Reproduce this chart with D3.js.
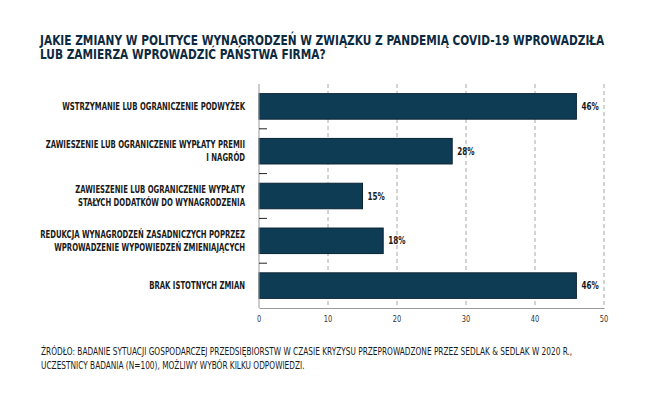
<!DOCTYPE html>
<html>
<head>
<meta charset="utf-8">
<script src="https://cdn.jsdelivr.net/npm/d3@7"></script>
<style>
  body { margin: 0; background: #fff; }
  svg { display: block; }
  text { font-family: "DejaVu Sans Condensed", "Liberation Sans Narrow", "Roboto", sans-serif; }
</style>
</head>
<body>
<svg id="chart" width="650" height="397"></svg>
<script>
// data
const categories = [
  ["WSTRZYMANIE LUB OGRANICZENIE PODWYŻEK"],
  ["ZAWIESZENIE LUB OGRANICZENIE WYPŁATY PREMII", "I NAGRÓD"],
  ["ZAWIESZENIE LUB OGRANICZENIE WYPŁATY", "STAŁYCH DODATKÓW DO WYNAGRODZENIA"],
  ["REDUKCJA WYNAGRODZEŃ ZASADNICZYCH POPRZEZ", "WPROWADZENIE WYPOWIEDZEŃ ZMIENIAJĄCYCH"],
  ["BRAK ISTOTNYCH ZMIAN"]
];
const values = [46, 28, 15, 18, 46];
const xTicks = [0, 10, 20, 30, 40, 50];
const titleLines = [
  "JAKIE ZMIANY W POLITYCE WYNAGRODZEŃ W ZWIĄZKU Z PANDEMIĄ COVID-19 WPROWADZIŁA",
  "LUB ZAMIERZA WPROWADZIĆ PAŃSTWA FIRMA?"
];
const sourceLines = [
  "ŹRÓDŁO: BADANIE SYTUACJI GOSPODARCZEJ PRZEDSIĘBIORSTW W CZASIE KRYZYSU PRZEPROWADZONE PRZEZ SEDLAK & SEDLAK W 2020 R.,",
  "UCZESTNICY BADANIA (N=100), MOŻLIWY WYBÓR KILKU ODPOWIEDZI."
];

const svg = d3.select("#chart");
const margin = { top: 84, left: 259, right: 46, bottom: 89 };
const width = 650 - margin.left - margin.right;
const height = 397 - margin.top - margin.bottom;

// no narrow font installed: squeeze text horizontally so it fits like the original
function measure(str, size, weight) {
  const t = svg.append("text").attr("font-size", size).attr("font-weight", weight).text(str);
  const w = t.node().getComputedTextLength();
  t.remove();
  return w;
}
const kTitle = 565 / measure(titleLines[0], 13.5, "bold");
const kCat = 183 / measure(categories[0][0], 10, "bold");
const kSrc = 532 / measure(sourceLines[0], 10, "normal");

function squeezed(parent, px, py, k) {
  return parent.append("g").attr("transform", `translate(${px},${py}) scale(${k},1)`);
}

const x = d3.scaleLinear().domain([0, 50]).range([0, width]);
const y = d3.scaleBand().domain(d3.range(values.length)).range([0, height]).paddingInner(0.43).paddingOuter(0.215);

// title
titleLines.forEach((line, i) => {
  squeezed(svg, 40, 44.5 + i * 14.5, kTitle).append("text")
    .attr("font-size", 13.5)
    .attr("font-weight", "bold")
    .attr("fill", "#0d2a3f")
    .text(line);
});

const chart = svg.append("g").attr("transform", `translate(${margin.left},${margin.top})`);

// grid
chart.append("g").selectAll("line")
  .data(xTicks.slice(1)).enter().append("line")
  .attr("x1", d => x(d)).attr("x2", d => x(d))
  .attr("y1", 0).attr("y2", height)
  .attr("stroke", "#a8a8a8")
  .attr("stroke-dasharray", "4,3");

// bars
chart.selectAll(".bar")
  .data(values).enter().append("rect")
  .attr("class", "bar")
  .attr("x", 0)
  .attr("y", (d, i) => y(i))
  .attr("width", d => x(d))
  .attr("height", y.bandwidth())
  .attr("fill", "#0f3c55")
  .attr("stroke", "#0a2333")
  .attr("stroke-width", 1);

// value labels
values.forEach((v, i) => {
  squeezed(chart, x(v) + 5, y(i) + y.bandwidth() / 2, kCat).append("text")
    .attr("dy", "0.35em")
    .attr("font-size", 10.5)
    .attr("font-weight", "bold")
    .attr("fill", "#1a1a1a")
    .text(v + "%");
});

// axes
const xAxis = chart.append("g")
  .attr("transform", `translate(0,${height})`)
  .call(d3.axisBottom(x).tickValues(xTicks).tickSize(0).tickFormat(""));
xAxis.select(".domain").attr("stroke", "#9a9a9a");
xTicks.forEach(t => {
  squeezed(chart, x(t), height + 14, kSrc).append("text")
    .attr("text-anchor", "middle")
    .attr("font-size", 9)
    .attr("fill", "#333")
    .text(t);
});

chart.append("line")
  .attr("x1", 0).attr("x2", 0).attr("y1", 0).attr("y2", height)
  .attr("stroke", "#9a9a9a");

// separators between bands
chart.append("g").selectAll("line")
  .data(d3.range(1, values.length)).enter().append("line")
  .attr("x1", 0).attr("x2", 8)
  .attr("y1", i => y(i) - y.step() * y.paddingInner() / 2)
  .attr("y2", i => y(i) - y.step() * y.paddingInner() / 2)
  .attr("stroke", "#222");

// category labels
categories.forEach((lines, i) => {
  const cy = y(i) + y.bandwidth() / 2;
  lines.forEach((line, j) => {
    squeezed(chart, -14, cy + (j - (lines.length - 1) / 2) * 13, kCat).append("text")
      .attr("text-anchor", "end")
      .attr("dy", "0.35em")
      .attr("font-size", 10)
      .attr("font-weight", "bold")
      .attr("fill", "#1a1a1a")
      .text(line);
  });
});

// source
sourceLines.forEach((line, i) => {
  squeezed(svg, 41, 355 + i * 13.5, kSrc).append("text")
    .attr("font-size", 10)
    .attr("fill", "#1a1a1a")
    .text(line);
});
</script>
</body>
</html>
